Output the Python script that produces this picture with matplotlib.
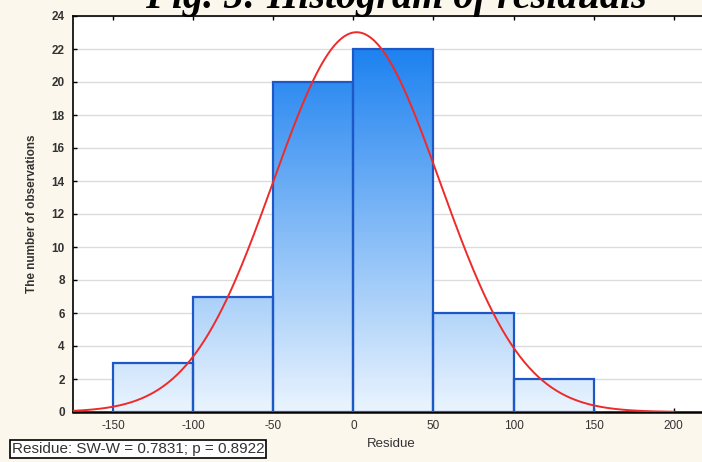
import numpy as np
import matplotlib.pyplot as plt
from matplotlib.colors import LinearSegmentedColormap

# histogram of residuals
bin_left = [-150, -100, -50, 0, 50, 100]
bin_width = 50
counts = [3, 7, 20, 22, 6, 2]
x_ticks = [-150, -100, -50, 0, 50, 100, 150, 200]
y_ticks = list(range(0, 25, 2))

# fitted normal curve parameters
fit_mean = 2.0
fit_sd = 52.0

plt.rcParams['font.family'] = ['Liberation Sans', 'DejaVu Sans']
plt.rcParams['axes.unicode_minus'] = False

fig = plt.figure(figsize=(7.02, 4.62), dpi=100)
fig.patch.set_facecolor('#fcf7ec')
ax = fig.add_axes([73/702, 1 - 412/462, 1.0 - 73/702 + 0.01, (412 - 16)/462])
ax.set_facecolor('white')

xmin, xmax = -175, 222
ax.set_xlim(xmin, xmax)
ax.set_ylim(0, 24)

for yv in y_ticks[1:]:
    ax.axhline(yv, color='#dcdcdc', lw=1.0, zorder=0)

# vertical gradient fill, light at the bottom, deep blue at the top
cmap = LinearSegmentedColormap.from_list('bars', ['#eaf4fe', '#1e82f0'])
grad = np.linspace(0, 24, 256).reshape(-1, 1)

bars = ax.bar(bin_left, counts, width=bin_width, align='edge',
              facecolor='none', edgecolor='#1d58c8', linewidth=1.6, zorder=3)
for b in bars:
    im = ax.imshow(grad, extent=[xmin, xmax, 0, 24], origin='lower', aspect='auto',
                   cmap=cmap, vmin=0, vmax=22, zorder=2)
    im.set_clip_path(b)

n_total = sum(counts)
xc = np.linspace(-175, 200, 400)
yc = n_total * bin_width / (fit_sd * np.sqrt(2 * np.pi)) * np.exp(-(xc - fit_mean) ** 2 / (2 * fit_sd ** 2))
ax.plot(xc, yc, color='#ee2a2a', lw=1.4, zorder=4)

ax.set_xticks(x_ticks)
ax.set_yticks(y_ticks)
ax.tick_params(direction='in', length=3, width=1, top=True, labelsize=8.5,
               labelcolor='#333333', pad=6)
for lab in ax.get_yticklabels():
    lab.set_fontweight('bold')
ax.spines['right'].set_visible(False)
ax.spines['bottom'].set_linewidth(1.8)
ax.spines['left'].set_linewidth(1.2)
ax.spines['top'].set_linewidth(1.2)
ax.set_xlabel('Residue', fontsize=9.5, color='#333333', labelpad=4)
ax.set_ylabel('The number of observations', fontsize=8.5, color='#333333',
              fontweight='bold', labelpad=10)

fig.text(12/702, 1 - 449/462, 'Residue: SW-W = 0.7831; p = 0.8922', fontsize=11,
         color='#333333', va='center', ha='left',
         bbox=dict(boxstyle='square,pad=0.1', facecolor='white', edgecolor='black', lw=1.2))

fig.text(396/702, 1 - 8/462, 'Fig. 5: Histogram of residuals', fontsize=29,
         family='Liberation Serif', fontweight='bold', style='italic',
         ha='center', va='baseline')

fig.savefig('out.png', dpi=100, facecolor=fig.get_facecolor())
